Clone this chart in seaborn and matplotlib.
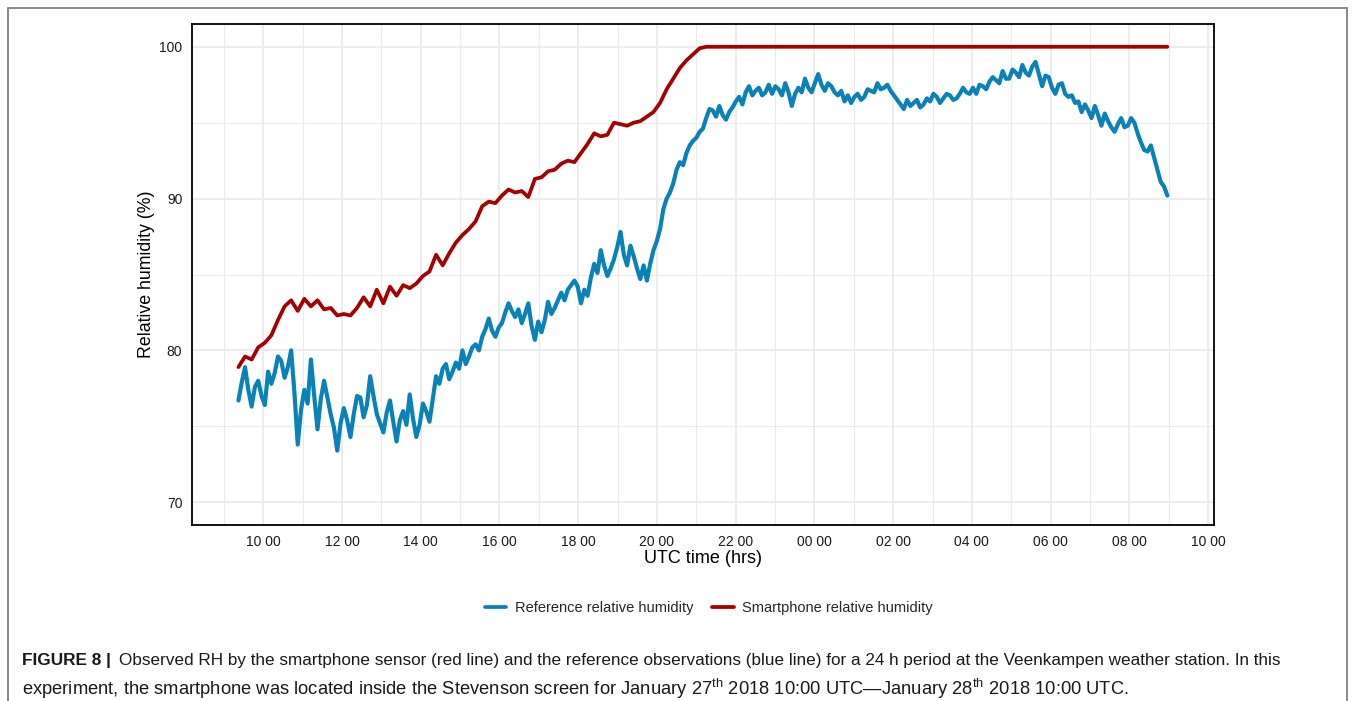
import numpy as np
import pandas as pd
import matplotlib
matplotlib.use("Agg")
import matplotlib.pyplot as plt
from matplotlib.lines import Line2D
import seaborn as sns

# ---------------- data ----------------
start_hour = 9.37          # first observation (hours since 00 UTC, Jan 27)
ref_step_minutes = 5.02
phone_step_minutes = 10.04

reference_rh = [
    76.7, 77.9, 78.9, 77.4, 76.3, 77.6,
    78.0, 77.0, 76.4, 78.6, 77.8, 78.5, 79.6, 79.3, 78.2, 78.9, 80.0, 77.2,
    73.8, 76.1, 77.4, 76.5, 79.4, 77.0, 74.8, 76.8, 78.0, 76.9, 75.8, 74.9,
    73.4, 75.2, 76.2, 75.4, 74.3, 75.8, 77.0, 76.9, 75.6, 76.4, 78.3, 77.0,
    75.8, 75.2, 74.6, 75.9, 76.7, 75.3, 74.0, 75.4, 76.0, 75.1, 77.1, 75.5,
    74.3, 75.1, 76.5, 76.0, 75.3, 76.8, 78.3, 77.8, 78.8, 79.1, 78.1, 78.6,
    79.2, 78.8, 80.0, 79.1, 79.6, 80.2, 80.4, 80.0, 80.9, 81.4, 82.1, 81.3,
    80.9, 81.5, 81.8, 82.5, 83.1, 82.6, 82.2, 82.7, 81.8, 82.4, 83.1, 81.6,
    80.7, 81.9, 81.2, 82.0, 83.2, 82.4, 82.8, 83.3, 83.8, 83.3, 84.0, 84.3,
    84.6, 84.2, 83.1, 84.0, 83.6, 84.8, 85.7, 85.1, 86.6, 85.6, 84.9, 85.4,
    86.0, 86.8, 87.8, 86.3, 85.6, 86.9, 86.2, 85.4, 84.7, 85.6, 84.6, 85.7,
    86.6, 87.2, 88.0, 89.3, 90.0, 90.4, 91.0, 91.9, 92.4, 92.2, 93.0, 93.5,
    93.8, 94.0, 94.4, 94.6, 95.3, 95.9, 95.8, 95.4, 96.1, 95.5, 95.2, 95.7,
    96.0, 96.4, 96.7, 96.2, 97.0, 97.4, 96.8, 97.1, 97.3, 96.8, 97.0, 97.5,
    96.9, 97.4, 97.2, 96.8, 97.6, 97.0, 96.1, 96.9, 97.3, 97.0, 97.9, 97.3,
    97.0, 97.6, 98.2, 97.5, 97.1, 97.6, 97.4, 97.0, 96.8, 97.1, 96.4, 96.8,
    96.3, 96.7, 96.9, 96.5, 96.7, 97.2, 97.1, 97.0, 97.6, 97.2, 97.3, 97.5,
    97.1, 96.8, 96.5, 96.2, 95.9, 96.5, 96.1, 96.3, 96.5, 96.0, 96.2, 96.6,
    96.4, 96.9, 96.7, 96.3, 96.6, 96.9, 96.8, 96.5, 96.6, 96.9, 97.3, 97.0,
    96.9, 97.3, 96.9, 97.5, 97.4, 97.2, 97.7, 98.0, 97.8, 97.6, 98.4, 97.9,
    97.9, 98.5, 98.3, 98.0, 98.8, 98.3, 98.1, 98.7, 99.0, 98.2, 97.4, 98.1,
    98.0, 97.3, 96.9, 97.5, 97.6, 96.9, 96.7, 96.8, 96.3, 96.4, 95.7, 96.2,
    95.8, 95.3, 96.1, 95.5, 94.8, 95.6, 95.1, 94.7, 94.4, 94.9, 95.3, 94.7,
    94.8, 95.3, 95.0, 94.3, 93.7, 93.2, 93.1, 93.5, 92.7, 91.9, 91.1, 90.8,
    90.2,
]

smartphone_rh = [
    78.9, 79.6, 79.4,
    80.2, 80.5, 81.0, 82.0, 82.9, 83.3,
    82.6, 83.4, 82.9, 83.3, 82.7, 82.8,
    82.3, 82.4, 82.3, 82.8, 83.5, 82.9,
    84.0, 83.1, 84.2, 83.6, 84.3, 84.1,
    84.4, 84.9, 85.2, 86.3, 85.6, 86.4,
    87.1, 87.6, 88.0, 88.5, 89.5, 89.8,
    89.7, 90.2, 90.6, 90.4, 90.5, 90.1,
    91.3, 91.4, 91.8, 91.9, 92.3, 92.5,
    92.4, 93.0, 93.6, 94.3, 94.1, 94.2,
    95.0, 94.9, 94.8, 95.0, 95.1, 95.4,
    95.7, 96.3, 97.2, 97.9, 98.6, 99.1,
    99.5, 99.9, 100.0,
]
smartphone_saturated_until = 100.0  # sensor stays at 100 % until the last sample

series_names = ["Reference relative humidity", "Smartphone relative humidity"]
series_colors = ["#0A82B8", "#A50000"]
x_tick_hours = list(range(10, 35, 2))
x_tick_labels = [f"{h % 24:02d} 00" for h in x_tick_hours]
y_ticks = [70, 80, 90, 100]

# ---------------- build table ----------------
ref_hours = start_hour + np.arange(len(reference_rh)) * ref_step_minutes / 60.0
sm_hours = list(start_hour + np.arange(len(smartphone_rh)) * phone_step_minutes / 60.0) + [ref_hours[-1]]
sm_vals = list(smartphone_rh) + [smartphone_saturated_until]

df = pd.concat([
    pd.DataFrame({"hour": ref_hours, "rh": reference_rh, "series": series_names[0]}),
    pd.DataFrame({"hour": sm_hours, "rh": sm_vals, "series": series_names[1]}),
], ignore_index=True)

# ---------------- plot ----------------
sns.set_theme(style="white")
plt.rcParams["font.family"] = ["Liberation Sans", "DejaVu Sans"]
plt.rcParams["mathtext.fontset"] = "custom"
plt.rcParams["mathtext.rm"] = "Liberation Sans"

W, H = 1355, 701
fig = plt.figure(figsize=(W / 100, H / 100), dpi=100)
ax = fig.add_axes([192 / W, 1 - 525 / H, (1214 - 192) / W, (525 - 24) / H])

sns.lineplot(data=df, x="hour", y="rh", hue="series", hue_order=series_names,
             palette=series_colors, linewidth=2.7, estimator=None, sort=True,
             legend=False, ax=ax, zorder=3)
ax.lines[0].set_linewidth(3.0)

ax.set_xlim(8.19, 34.15)
ax.set_ylim(68.5, 101.5)
ax.set_xticks(x_tick_hours)
ax.set_xticklabels(x_tick_labels)
ax.set_xticks(range(9, 35, 2), minor=True)
ax.set_yticks(y_ticks)
ax.set_yticks([75, 85, 95], minor=True)
ax.grid(which="major", color="#EBEBEB", linewidth=1.3, zorder=0)
ax.grid(which="minor", color="#EBEBEB", linewidth=0.8, zorder=0)
ax.set_axisbelow(True)
ax.tick_params(which="both", length=0, labelsize=10, colors="#1a1a1a", pad=7)
for sp in ax.spines.values():
    sp.set_color("black")
    sp.set_linewidth(1.3)

ax.set_xlabel("UTC time (hrs)", fontsize=13, color="black")
ax.set_ylabel("Relative humidity (%)", fontsize=12.8, color="black")
ax.xaxis.set_label_coords(0.5, -0.05)
ax.yaxis.set_label_coords(-0.036, 0.5)

handles = [Line2D([], [], color=c, linewidth=2.7) for c in series_colors]
fig.legend(handles, series_names, loc="center", bbox_to_anchor=(709 / W, 1 - 608 / H),
           ncol=2, frameon=False, fontsize=10.5, handlelength=1.45, handletextpad=0.6,
           columnspacing=1.3)

# outer frame of the figure panel
frame_kw = dict(color="#8a8a8a", linewidth=1.4, transform=fig.transFigure)
fig.add_artist(Line2D([8 / W, 1347 / W], [1 - 8 / H, 1 - 8 / H], **frame_kw))
fig.add_artist(Line2D([8 / W, 8 / W], [1 - 8 / H, 0], **frame_kw))
fig.add_artist(Line2D([1347 / W, 1347 / W], [1 - 8 / H, 0], **frame_kw))

# caption
fig.text(22 / W, 1 - 661 / H, "FIGURE 8 |", fontsize=12.4, fontweight="bold",
         va="center", ha="left", color="#1a1a1a")
fig.text(119 / W, 1 - 661 / H,
         "Observed RH by the smartphone sensor (red line) and the reference observations "
         "(blue line) for a 24 h period at the Veenkampen weather station. In this",
         fontsize=12.3, va="center", ha="left", color="#1a1a1a")
fig.text(22 / W, 1 - 689 / H,
         r"experiment, the smartphone was located inside the Stevenson screen for January 27$^{\mathrm{th}}$ "
         r"2018 10:00 UTC—January 28$^{\mathrm{th}}$ 2018 10:00 UTC.",
         fontsize=13.2, va="center", ha="left", color="#1a1a1a")

fig.savefig("out.png", dpi=100)
